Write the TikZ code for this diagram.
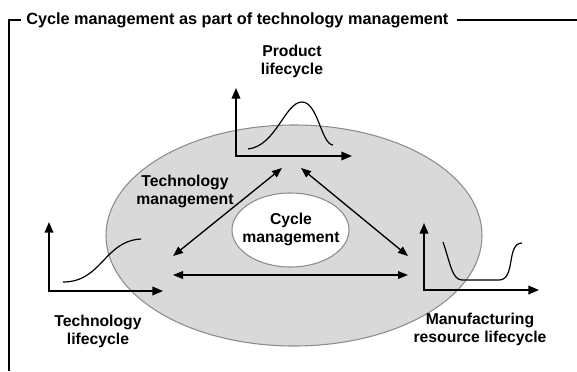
\documentclass[tikz,border=0pt]{standalone}
\usepackage{fontspec}
\setmainfont{Liberation Sans}
\usetikzlibrary{arrows.meta,shapes.geometric}
\definecolor{fillgray}{HTML}{D9D9D9}
\definecolor{edgegray}{HTML}{8C8C8C}
\tikzset{
  lbl/.style={font=\bfseries\fontsize{11.8}{13.5}\selectfont, align=center, inner sep=0pt},
  axis/.style={line width=1.2pt, {Triangle[length=8pt,width=6.5pt]}-{Triangle[length=8pt,width=6.5pt]}},
  rel/.style={line width=1pt, {Triangle[length=7.5pt,width=5.8pt]}-{Triangle[length=7.5pt,width=5.8pt]}},
  crv/.style={line width=0.9pt},
  framel/.style={line width=0.9pt}
}
\begin{document}
\begin{tikzpicture}[x=0.75pt,y=-0.75pt]
\useasboundingbox (0,0) rectangle (577,371);
% frame
\node[font=\bfseries\fontsize{12.2}{14}\selectfont, anchor=west, inner sep=0pt] (title) at (26,20) {Cycle management as part of technology management};
\coordinate (fbl) at (9,371);
\coordinate (ftr) at (577,20);
\draw[framel] (fbl) |- ([xshift=-4pt]title.west);
\draw[framel] ([xshift=6pt]title.east) -- (ftr);
% big ellipse
\node[ellipse, draw=edgegray, fill=fillgray, line width=0.8pt, minimum width=376*0.75pt, minimum height=221*0.75pt, inner sep=0pt] (outer) at (294,235.5) {};
\node[ellipse, draw=edgegray, fill=white, line width=0.8pt, minimum width=117*0.75pt, minimum height=74*0.75pt, inner sep=0pt] (inner) at (290.5,230) {};
\node[lbl] (cyc) at (291,229) {Cycle\\management};
\node[lbl] (tm) at (185,191) {Technology\\management};
% product lifecycle
\node[lbl] (pl) at (292,61) {Product\\lifecycle};
\coordinate (p0) at (236,156);
\coordinate (py) at (236,88);
\coordinate (px) at (352,156);
\draw[axis] (py) -- (p0) -- (px);
\draw[crv] (248,149) .. controls (276,146) and (285,102) .. (302,102) .. controls (318,102) and (321,144) .. (333,145);
% technology lifecycle
\node[lbl] (tl) at (98,331) {Technology\\lifecycle};
\coordinate (t0) at (49,291);
\coordinate (ty) at (49,222);
\coordinate (tx) at (163,291);
\draw[axis] (ty) -- (t0) -- (tx);
\draw[crv] (63,282) .. controls (102,282) and (104,241) .. (141,239);
% manufacturing
\node[lbl] (ml) at (480,329) {Manufacturing\\resource lifecycle};
\coordinate (m0) at (424,290);
\coordinate (my) at (424,223);
\coordinate (mx) at (539,290);
\draw[axis] (my) -- (m0) -- (mx);
\draw[crv] (443,242) .. controls (450,262) and (452,280) .. (462,280) -- (499,280) .. controls (516,280) and (506,243) .. (522,243);
% relation arrows
\coordinate (a1) at (282,168);
\coordinate (a2) at (173,256);
\coordinate (b1) at (301,168);
\coordinate (b2) at (408,256);
\coordinate (c1) at (173,275);
\coordinate (c2) at (408,275);
\draw[rel] (a1) -- (a2);
\draw[rel] (b1) -- (b2);
\draw[rel] (c1) -- (c2);
\end{tikzpicture}
\end{document}
